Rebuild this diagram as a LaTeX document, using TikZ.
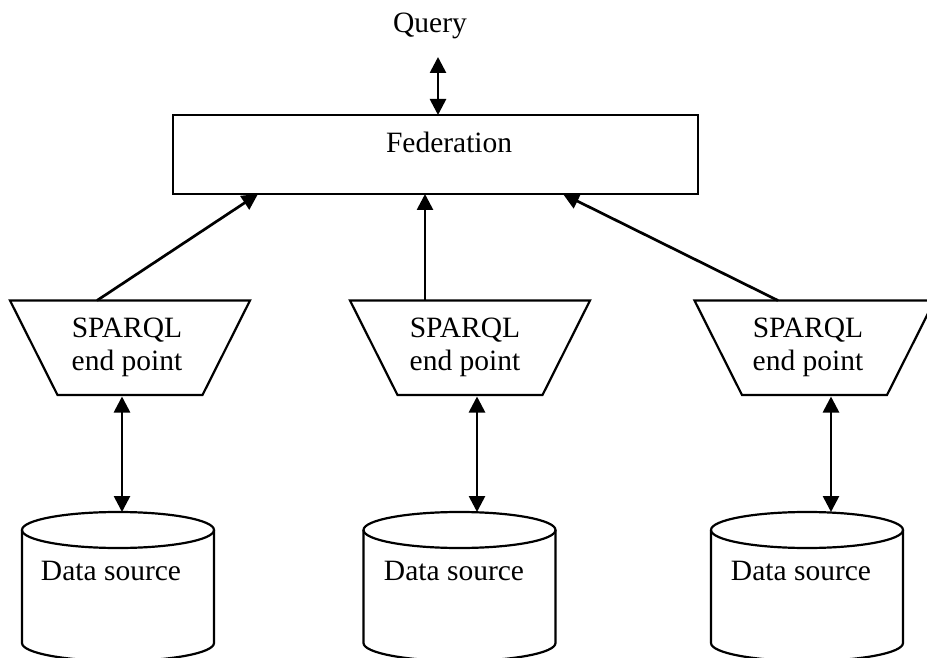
\documentclass[tikz,border=0pt]{standalone}
\usepackage{fontspec}
\setmainfont{Liberation Serif}
\usetikzlibrary{arrows.meta,calc}
\begin{document}
\begin{tikzpicture}[x=1pt,y=-1pt,
  lbl/.style={font=\fontsize{29.5}{33}\selectfont, inner sep=0pt, outer sep=0pt},
  outline/.style={line width=2.2pt},
  tip/.tip={Triangle[length=16pt,width=16pt]},
  conn/.style={line width=2.7pt, -tip},
  biconn/.style={line width=2.7pt, tip-tip},
  frame/.style={inner sep=0pt, outer sep=0pt},
  endpt/.style={frame, minimum width=240pt, minimum height=94.5pt},
  store/.style={frame, minimum width=192pt, minimum height=149pt},
]
\useasboundingbox (0,0) rectangle (927,658);
\fill[white] (0,0) rectangle (927,658);
\clip (0,0) rectangle (927,658);

% query and federation layer
\node[lbl, anchor=base] (query) at (430,33) {Query};
\coordinate (qend) at (438,57);
\node[frame, draw, outline, minimum width=525pt, minimum height=79pt] (fed) at (435.5,154.5) {};
\node[lbl, anchor=base west] (fedtxt) at (386,153) {Federation};

% SPARQL end points (trapezoids)
\node[endpt] (ep1) at (130,347.75) {};
\node[endpt] (ep2) at (470,347.75) {};
\node[endpt] (ep3) at (814.5,347.75) {};
\foreach \n in {ep1,ep2,ep3}
  \draw[outline] (\n.north west) -- (\n.north east)
    -- ([xshift=-47.5pt]\n.south east) -- ([xshift=47.5pt]\n.south west) -- cycle;
\node[lbl, align=center] (ep1t) at (127,347.5) {SPARQL\\end point};
\node[lbl, align=center] (ep2t) at (465,347.5) {SPARQL\\end point};
\node[lbl, align=center] (ep3t) at (808,347.5) {SPARQL\\end point};

% data sources (cylinders)
\node[store] (ds1) at (118,586.5) {};
\node[store] (ds2) at (459.5,586.5) {};
\node[store] (ds3) at (807,586.5) {};
\foreach \n in {ds1,ds2,ds3} {
  \draw[outline] ([yshift=-18pt]\n.north west) -- ([yshift=18pt]\n.south west)
    arc[start angle=180, end angle=360, x radius=96pt, y radius=18pt]
    -- ([yshift=-18pt]\n.north east);
  \draw[outline] ([yshift=-18pt]\n.north) ellipse[x radius=96pt, y radius=18pt];
}
\node[lbl, anchor=base] (ds1t) at (111,580) {Data source};
\node[lbl, anchor=base] (ds2t) at (454,580) {Data source};
\node[lbl, anchor=base] (ds3t) at (801,580) {Data source};

% connectors
\draw[biconn] (qend) -- (qend |- fed.north);
\draw[conn] ([xshift=-33pt]ep1.north) -- ([xshift=-177.5pt]fed.south);
\draw[conn] ([xshift=-45pt]ep2.north) -- ([xshift=-10.5pt]fed.south);
\draw[conn] ([xshift=-36.5pt]ep3.north) -- ([xshift=127.5pt]fed.south);

\coordinate (a1) at ([xshift=-8pt,yshift=-1.5pt]ep1.south);
\coordinate (a2) at ([xshift=7pt,yshift=-1.5pt]ep2.south);
\coordinate (a3) at ([xshift=16.5pt,yshift=-1.5pt]ep3.south);
\draw[biconn] (a1) -- (a1 |- ds1.north);
\draw[biconn] (a2) -- (a2 |- ds2.north);
\draw[biconn] (a3) -- (a3 |- ds3.north);
\end{tikzpicture}
\end{document}
